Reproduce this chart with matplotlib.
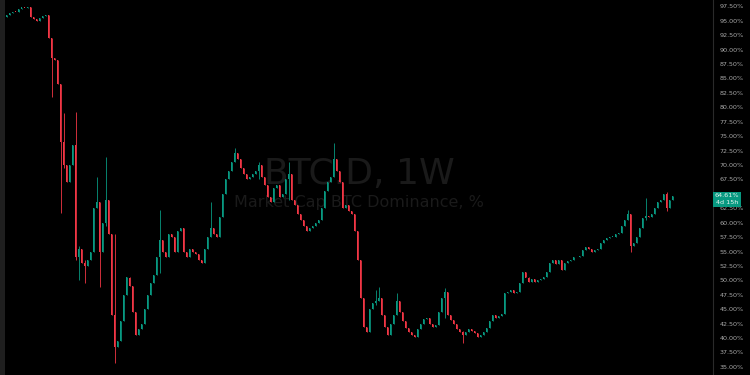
import matplotlib
matplotlib.use('Agg')
import matplotlib.pyplot as plt
from matplotlib.patches import Rectangle

# BTC.D weekly closes (%)
closes = [
    96.0, 96.3, 96.6, 96.5, 97.0, 97.3, 97.2, 97.4, 95.6, 95.3,
    95.0, 95.5, 95.8, 96.0, 92.0, 88.5, 88.2, 84.0, 74.0, 70.0,
    67.0, 70.0, 73.5, 54.0, 55.5, 53.0, 52.5, 53.5, 55.0, 62.5,
    63.5, 55.0, 60.0, 64.0, 58.0, 44.0, 38.5, 39.5, 43.0, 47.5,
    50.5, 49.0, 44.5, 40.5, 41.5, 42.5, 45.0, 47.5, 49.5, 51.0,
    54.0, 57.0, 55.0, 54.0, 58.0, 57.5, 55.0, 58.5, 59.0, 55.0,
    54.0, 55.5, 55.0, 54.5, 53.5, 53.0, 55.5, 57.5, 59.0, 58.0,
    57.5, 61.0, 65.0, 67.5, 69.0, 70.5, 72.0, 71.0, 69.5, 68.5,
    67.5, 68.0, 68.5, 69.0, 70.0, 68.0, 66.5, 64.5, 63.5, 66.0,
    66.5, 64.5, 65.0, 67.5, 68.5, 64.0, 63.0, 61.5, 60.5, 59.5,
    58.5, 59.0, 59.5, 60.0, 60.5, 62.5, 65.5, 67.0, 68.0, 71.0,
    69.0, 67.0, 62.5, 63.0, 62.0, 61.5, 58.5, 53.5, 47.0, 42.0,
    41.0, 45.0, 46.0, 46.5, 47.0, 44.0, 42.0, 40.5, 42.5, 44.0,
    46.5, 44.5, 43.0, 41.8, 41.0, 40.5, 40.2, 41.5, 42.5, 43.3,
    43.5, 42.5, 42.0, 42.2, 44.5, 47.0, 48.0, 44.0, 43.2, 42.5,
    41.5, 41.0, 40.5, 41.0, 41.5, 41.2, 40.8, 40.2, 40.5, 41.0,
    41.8, 43.0, 44.0, 43.5, 43.8, 44.2, 47.8, 48.0, 48.3, 47.8,
    48.0, 49.5, 51.5, 50.5, 49.8, 50.2, 49.7, 50.0, 50.3, 50.6,
    51.5, 53.0, 53.5, 52.8, 53.5, 51.8, 53.0, 53.3, 53.5, 54.0,
    54.1, 54.2, 55.3, 55.8, 55.5, 55.0, 55.3, 55.5, 56.5, 57.0,
    57.3, 57.5, 57.6, 58.0, 58.2, 59.5, 60.5, 61.5, 56.0, 56.5,
    57.5, 59.0, 60.8, 61.2, 61.0, 61.5, 62.5, 63.5, 64.0, 65.0,
    62.5, 64.0, 64.61,
]
first_open = 95.7

# notable wicks: candle index, high, low
wick_idx = [15, 18, 19, 23, 24, 26, 30, 31, 33, 36, 51, 68, 76, 84, 94,
            109, 123, 124, 130, 146, 152, 207, 208, 213, 220]
wick_hi = [88.9, 74.5, 79.0, 79.2, 56.0, 53.5, 67.9, 63.5, 71.4, 58.0,
           62.2, 63.5, 73.0, 70.5, 70.5, 73.8, 48.3, 48.9, 47.8, 48.6,
           41.2, 62.2, 61.5, 64.3, 65.3]
wick_lo = [81.8, 61.7, 69.5, 53.5, 50.0, 49.5, 62.5, 48.9, 59.5, 35.6,
           51.3, 57.5, 71.0, 67.5, 64.0, 68.0, 45.8, 46.5, 44.0, 43.5,
           39.1, 60.5, 54.9, 60.5, 62.0]

yticks = [35 + 2.5 * k for k in range(26)]
last_label = ['64.61%', '4d 15h']

up_col = '#089981'
dn_col = '#f23645'

opens = [first_open] + closes[:-1]
highs = [max(o, c) for o, c in zip(opens, closes)]
lows = [min(o, c) for o, c in zip(opens, closes)]
for i, h, l in zip(wick_idx, wick_hi, wick_lo):
    highs[i] = max(highs[i], h)
    lows[i] = min(lows[i], l)

fig = plt.figure(figsize=(7.5, 3.75), dpi=100, facecolor='#000000')
# grey strip on the left edge
fig.patches.append(Rectangle((0, 0), 5 / 750, 1, transform=fig.transFigure,
                             facecolor='#1f1f1f', edgecolor='none'))
ax = fig.add_axes([5 / 750, 0, 708 / 750, 1])
ax.set_facecolor('#000000')

# watermark
ax.text(0.5, 0.535, 'BTC.D, 1W', transform=ax.transAxes, ha='center', va='center',
        fontsize=26, color='#1a1a1a', zorder=0)
ax.text(0.5, 0.459, 'Market Cap BTC Dominance, %', transform=ax.transAxes,
        ha='center', va='center', fontsize=11.5, color='#1a1a1a', zorder=0)

xs = list(range(len(closes)))
cols = [up_col if c >= o else dn_col for o, c in zip(opens, closes)]
ax.vlines(xs, lows, highs, colors=cols, linewidth=0.6, zorder=2)
bottoms = [min(o, c) for o, c in zip(opens, closes)]
heights = [max(abs(c - o), 0.12) for o, c in zip(opens, closes)]
ax.bar(xs, heights, bottom=bottoms, width=0.62, color=cols, linewidth=0, zorder=3)

ax.set_xlim(-0.5, 235.5)
ax.set_ylim(33.6, 98.6)
ax.set_xticks([])
ax.yaxis.tick_right()
ax.set_yticks(yticks)
# the 65% label sits under the last-price tag, so it is not shown
ax.set_yticklabels(['' if t == 65 else '%.2f%%' % t for t in yticks])
ax.tick_params(axis='y', length=0, pad=5, labelsize=4.6, labelcolor='#a8a8a8')
for s in ['top', 'bottom', 'left']:
    ax.spines[s].set_visible(False)
ax.spines['right'].set_color('#2a2a2a')
ax.spines['right'].set_linewidth(0.8)

# last price label on the scale
fig.canvas.draw()
y_px = ax.transData.transform((0, closes[-1]))[1]
yf = y_px / 375
fig.patches.append(Rectangle((713 / 750, yf - 11 / 375), 28 / 750, 15 / 375,
                             transform=fig.transFigure, facecolor=up_col,
                             edgecolor='none', zorder=5))
fig.text(727 / 750, yf + 0.5 / 375, last_label[0], ha='center', va='center',
         fontsize=4.6, color='#e8f5f1', zorder=6)
fig.text(727 / 750, yf - 6.5 / 375, last_label[1], ha='center', va='center',
         fontsize=4.6, color='#e8f5f1', zorder=6)

fig.savefig('out.png', dpi=100, facecolor=fig.get_facecolor())
